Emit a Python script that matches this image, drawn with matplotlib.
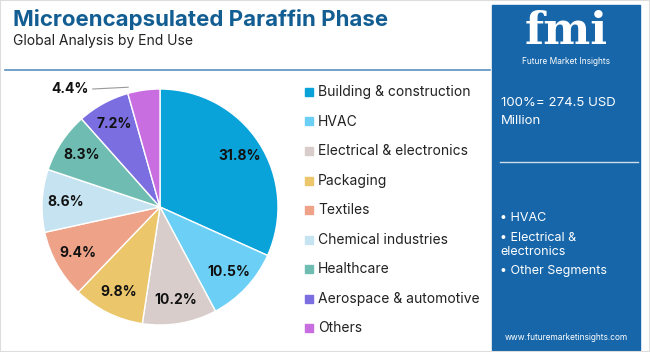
import numpy as np
import matplotlib.pyplot as plt
from matplotlib.patches import Rectangle

categories = ['Building & construction', 'HVAC', 'Electrical & electronics', 'Packaging',
              'Textiles', 'Chemical industries', 'Healthcare', 'Aerospace & automotive', 'Others']
shares = [31.8, 10.5, 10.2, 9.8, 9.4, 8.6, 8.3, 7.2, 4.4]
colors = ['#0aa3d9', '#6ccff5', '#d8cdca', '#ecc66b', '#eea389', '#c6e3f2',
          '#6fbdb2', '#7a6ee0', '#c86ee0']
side_bullets = ['• HVAC', '• Electrical &\nelectronics', '• Other Segments']

plt.rcParams['font.family'] = ['Inter', 'DejaVu Sans']
W, H = 650, 352
fig = plt.figure(figsize=(6.5, 3.52), dpi=100)
fig.patch.set_facecolor('white')

def px(x, y):
    return x / W, 1 - y / H

# title block
fig.text(*px(13, 19), 'Microencapsulated Paraffin Phase', fontsize=16, fontweight='bold',
         color='#125d92', va='center')
fig.text(*px(13, 41), 'Global Analysis by End Use', fontsize=10, color='#222222', va='center')
fig.add_artist(plt.Line2D([5 / W, 490 / W], [1 - 70 / H] * 2, color='#5b8fbf', lw=1.2))

# pie
cx, cy, r = 160, 207, 118
ax = fig.add_axes([(cx - r) / W, (H - cy - r) / H, 2 * r / W, 2 * r / H])
wedges, _ = ax.pie(shares, colors=colors, startangle=90, counterclock=False,
                   wedgeprops=dict(edgecolor='white', linewidth=1))
ax.set_xlim(-1, 1)
ax.set_ylim(-1, 1)
ax.set_aspect('equal')
for w, v in zip(wedges, shares):
    mid = np.deg2rad((w.theta1 + w.theta2) / 2)
    if v < 5:
        # small slice: label outside with a leader line
        ax.plot([-0.27, -0.57], [1.015, 1.0], color='#999999', lw=0.8, clip_on=False)
        ax.text(-0.6, 1.0, f'{v}%', ha='right', va='center', fontsize=10,
                fontweight='bold', color='#111111')
    else:
        d = 0.8
        ax.text(np.cos(mid) * d, np.sin(mid) * d, f'{v}%', ha='center', va='center',
                fontsize=10, fontweight='bold', color='#111111')

# legend
for i, (c, col) in enumerate(zip(categories, colors)):
    y = 92 + i * 29.5
    fig.add_artist(Rectangle(px(305, y + 4), 8 / W, 8 / H, color=col, transform=fig.transFigure))
    fig.text(*px(318, y), c, fontsize=10, color='#222222', va='center')

# right panel
fig.add_artist(Rectangle(px(492, 350), 148 / W, 345 / H, color='#1666a9',
                         transform=fig.transFigure))
fig.text(*px(566, 32), 'fmi', fontsize=32, fontweight='bold', color='white',
         ha='center', va='center', family='DejaVu Serif')
fig.text(*px(566, 61), 'Future Market Insights', fontsize=6, color='white',
         ha='center', va='center')
fig.text(*px(501, 112), '100%= 274.5 USD\nMillion', fontsize=9.5, color='white',
         va='center', linespacing=1.6)
fig.add_artist(plt.Line2D([500 / W, 638 / W], [1 - 162 / H] * 2, color='#d0ddea', lw=1))
fig.text(*px(500, 218), side_bullets[0], fontsize=9, color='white', va='center')
fig.text(*px(500, 245), side_bullets[1], fontsize=9, color='white', va='center', linespacing=1.3)
fig.text(*px(500, 271), side_bullets[2], fontsize=9, color='white', va='center')
fig.text(*px(566, 338), 'www.futuremarketinsights.com', fontsize=6, color='white',
         ha='center', va='center')

fig.add_artist(Rectangle((0, 0), 1, 1, fill=False, edgecolor='#dddddd', lw=1.5,
                         transform=fig.transFigure))

fig.savefig('out.png', dpi=100)
